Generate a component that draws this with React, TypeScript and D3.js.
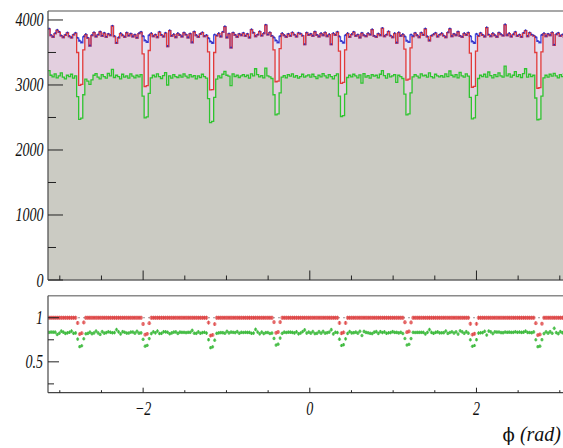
import React from 'react';
import * as d3 from 'd3';

const NBINS = 256;

const blueCounts = [
  3860,3760,3735,3790,3840,3810,3755,3730,3765,3800,3745,3725,3770,3795,3720,3675,
  3650,3740,3775,3720,3600,3760,3805,3740,3770,3815,3750,3795,3735,3780,3760,3905,
  3745,3640,3725,3790,3760,3735,3800,3755,3785,3740,3770,3720,3790,3810,3745,3680,
  3655,3760,3790,3745,3770,3730,3810,3765,3740,3795,3590,3835,3750,3775,3730,3790,
  3765,3740,3800,3770,3725,3785,3650,3815,3760,3735,3780,3805,3745,3760,3715,3665,
  3640,3770,3755,3790,3740,3810,3895,3725,3785,3570,3800,3765,3735,3780,3760,3795,
  3750,3780,3725,3850,3800,3745,3770,3820,3755,3790,3920,3770,3805,3750,3725,3680,
  3650,3745,3790,3760,3735,3780,3750,3805,3770,3740,3795,3785,3755,3620,3800,3765,
  3780,3750,3815,3765,3740,3790,3760,3805,3745,3775,3620,3790,3765,3810,3740,3670,
  3645,3760,3790,3735,3775,3810,3750,3770,3725,3795,3760,3745,3790,3770,3850,3750,
  3735,3785,3760,3870,3745,3770,3820,3755,3730,3790,3645,3805,3750,3775,3740,3675,
  3655,3770,3745,3795,3760,3730,3800,3765,3860,3740,3680,3755,3775,3795,3740,3770,
  3790,3755,3730,3805,3860,3745,3780,3760,3815,3750,3735,3790,3765,3800,3745,3665,
  3640,3780,3750,3795,3765,3740,3880,3770,3745,3790,3760,3735,3800,3775,3755,3925,
  3760,3790,3740,3775,3810,3750,3770,3735,3795,3835,3745,3800,3770,3755,3730,3670,
  3650,3765,3790,3745,3780,3760,3805,3610,3775,3795,3750,3770,3735,3790,3765,3780,
];

const redCounts = [
  3860,3760,3735,3790,3840,3810,3755,3730,3765,3800,3745,3725,3770,3795,3500,2995,
  3010,3540,3775,3720,3600,3760,3805,3740,3770,3815,3750,3795,3735,3780,3760,3905,
  3745,3640,3725,3790,3760,3735,3800,3755,3785,3740,3770,3720,3790,3810,3480,2975,
  2990,3530,3790,3745,3770,3730,3810,3765,3740,3795,3590,3835,3750,3775,3730,3790,
  3765,3740,3800,3770,3725,3785,3650,3815,3760,3735,3780,3805,3745,3760,3510,2925,
  2930,3500,3755,3790,3740,3810,3895,3725,3785,3570,3800,3765,3735,3780,3760,3795,
  3750,3780,3725,3850,3800,3745,3770,3820,3755,3790,3920,3770,3805,3750,3540,3050,
  3060,3560,3790,3760,3735,3780,3750,3805,3770,3740,3795,3785,3755,3620,3800,3765,
  3780,3750,3815,3765,3740,3790,3760,3805,3745,3775,3620,3790,3765,3810,3520,3025,
  3040,3540,3790,3735,3775,3810,3750,3770,3725,3795,3760,3745,3790,3770,3850,3750,
  3735,3785,3760,3870,3745,3770,3820,3755,3730,3790,3645,3805,3750,3775,3550,3075,
  3090,3570,3745,3795,3760,3730,3800,3765,3860,3740,3680,3755,3775,3795,3740,3770,
  3790,3755,3730,3805,3860,3745,3780,3760,3815,3750,3735,3790,3765,3800,3490,2965,
  2980,3520,3750,3795,3765,3740,3880,3770,3745,3790,3760,3735,3800,3775,3755,3925,
  3760,3790,3740,3775,3810,3750,3770,3735,3795,3835,3745,3800,3770,3755,3500,2950,
  2960,3510,3790,3745,3780,3760,3805,3610,3775,3795,3750,3770,3735,3790,3765,3780,
];

const greenCounts = [
  3220,3150,3125,3170,3110,3140,3185,3120,3095,3150,3130,3165,3105,3140,2820,2470,
  2490,2850,3090,3060,3010,3080,3150,3175,3120,3095,3160,3130,3105,3180,3140,3240,
  3115,3150,3130,3095,3165,3120,3140,3105,3170,3135,3110,3150,3125,3160,2830,2495,
  2510,2870,3110,3150,3125,3170,3130,3100,3145,3190,3000,3140,3105,3160,3130,3115,
  3150,3120,3170,3135,3110,3160,3125,3145,3095,3140,3115,3165,3130,3105,2790,2420,
  2440,2810,3090,3140,3110,3165,3210,3150,3135,2990,3170,3130,3150,3115,3140,3160,
  3130,3150,3105,3170,3140,3250,3160,3125,3145,3110,3260,3140,3125,3100,2850,2540,
  2555,2880,3120,3145,3110,3160,3135,3170,3120,3145,3105,3130,3165,3120,3140,3155,
  3120,3165,3130,3100,3150,3125,3175,3140,3110,3160,3130,3095,3145,3170,2830,2515,
  2530,2860,3115,3150,3125,3165,3140,3110,3155,3030,3175,3120,3145,3105,3160,3135,
  3150,3110,3165,3220,3145,3105,3170,3125,3140,3160,3040,3150,3130,3100,2860,2540,
  2555,2880,3125,3160,3135,3110,3170,3140,3150,3120,3185,3130,3110,3165,3140,3125,
  3145,3120,3170,3130,3215,3150,3125,3160,3110,3195,3140,3120,3170,3135,2810,2480,
  2495,2840,3100,3150,3130,3165,3120,3200,3145,3110,3160,3130,3185,3140,3120,3290,
  3140,3170,3120,3150,3205,3130,3160,3115,3175,3250,3120,3165,3130,3150,2800,2465,
  2475,2830,3110,3150,3120,3165,3135,3180,3140,3110,3160,3130,3175,3145,3120,3150,
];

const topYMajor = [0, 1000, 2000, 3000, 4000];
const topYLabels = ['0', '1000', '2000', '3000', '4000'];
const topYMinor = [500, 1500, 2500, 3500];
const xMajor = [-2, 0, 2];
const xLabels = ['\u22122', '0', '2'];
const xMinor = [-3, -2.5, -1.5, -1, -0.5, 0.5, 1, 1.5, 2.5, 3];
const ratioMajor = [0.5, 1];
const ratioLabels = ['0.5', '1'];
const ratioMinor = [0.25, 0.75];

const W = 563;
const H = 448;
const FX0 = 48;
const FX1 = 571.6;
const TOP0 = 11;
const TOP1 = 280;
const BOT0 = 295.7;
const BOT1 = 392.7;

const FONT = "'Liberation Serif', 'Times New Roman', serif";

function Lbl({ x, y, text, anchor }: { x: number; y: number; text: string; anchor: string }) {
  return (
    <text
      transform={`translate(${x},${y}) scale(0.74,1)`}
      textAnchor={anchor}
      fontFamily={FONT}
      fontStyle="italic"
      fontSize={19}
      fill="#111"
    >
      {text}
    </text>
  );
}

export default function App() {
  const edges = d3.range(NBINS + 1).map((i) => -Math.PI + (i * 2 * Math.PI) / NBINS);
  const centers = d3.range(NBINS).map((i) => (edges[i] + edges[i + 1]) / 2);

  const x = d3.scaleLinear().domain([-Math.PI, Math.PI]).range([FX0, FX1]);
  const yTop = d3.scaleLinear().domain([0, 4138]).range([TOP1, TOP0]);
  const yBot = d3.scaleLinear().domain([0.15, 1.25]).range([BOT1, BOT0]);

  type P = { x: number; v: number };
  const stepData = (vals: number[]): P[] =>
    vals.map((v, i) => ({ x: edges[i], v })).concat([{ x: edges[NBINS], v: vals[NBINS - 1] }]);

  const area = d3
    .area<P>()
    .x((d) => x(d.x))
    .y0(yTop(0))
    .y1((d) => yTop(d.v))
    .curve(d3.curveStepAfter);
  const line = d3
    .line<P>()
    .x((d) => x(d.x))
    .y((d) => yTop(d.v))
    .curve(d3.curveStepAfter);

  const blueD = stepData(blueCounts);
  const redD = stepData(redCounts);
  const greenD = stepData(greenCounts);

  const redRatio = redCounts.map((r, i) => r / blueCounts[i]);
  const greenRatio = greenCounts.map((g, i) => g / blueCounts[i]);
  const redErr = redCounts.map((r, i) => redRatio[i] * Math.sqrt(1 / r + 1 / blueCounts[i]));
  const greenErr = greenCounts.map((g, i) => greenRatio[i] * Math.sqrt(1 / g + 1 / blueCounts[i]));

  return (
    <svg
      width={W}
      height={H}
      viewBox={`0 0 ${W} ${H}`}
      style={{ position: 'fixed', left: 0, top: 0, background: '#fff' }}
    >
      <defs>
        <clipPath id="clipTop">
          <rect x={FX0} y={TOP0} width={FX1 - FX0} height={TOP1 - TOP0} />
        </clipPath>
        <clipPath id="clipBot">
          <rect x={FX0} y={BOT0} width={FX1 - FX0} height={BOT1 - BOT0} />
        </clipPath>
      </defs>
      <rect x={0} y={0} width={W} height={H} fill="#fff" />

      {/* top pad histograms */}
      <g clipPath="url(#clipTop)">
        <path d={area(blueD) || ''} fill="#e7e5f3" />
        <path d={area(redD) || ''} fill="#e3cfdf" />
        <path d={area(greenD) || ''} fill="#cbcbc3" />
        <path d={line(blueD) || ''} fill="none" stroke="#5050e0" strokeWidth={1.4} />
        <path d={line(redD) || ''} fill="none" stroke="#e23a3a" strokeWidth={1.3} />
        <path d={line(greenD) || ''} fill="none" stroke="#2fc42f" strokeWidth={1.3} />
        {centers.map((c, i) => (
          <circle key={'bm' + i} cx={x(c)} cy={yTop(blueCounts[i]) - 0.6} r={0.9} fill="#2c2cb8" />
        ))}
      </g>

      {/* top pad frame */}
      <line x1={FX0} x2={W} y1={TOP0} y2={TOP0} stroke="#8a8a8a" strokeWidth={1.5} />
      <line x1={FX0} x2={FX0} y1={TOP0} y2={TOP1} stroke="#555" strokeWidth={1.3} />
      <line x1={FX0} x2={W} y1={TOP1} y2={TOP1} stroke="#666" strokeWidth={1.3} />
      {topYMajor.map((v) => (
        <line key={'tyM' + v} x1={FX0} x2={FX0 + 15} y1={yTop(v)} y2={yTop(v)} stroke="#222" strokeWidth={1} />
      ))}
      {topYMinor.map((v) => (
        <line key={'tym' + v} x1={FX0} x2={FX0 + 8} y1={yTop(v)} y2={yTop(v)} stroke="#222" strokeWidth={1} />
      ))}
      {xMajor.map((v) => (
        <line key={'txM' + v} x1={x(v)} x2={x(v)} y1={TOP1} y2={TOP1 - 9.5} stroke="#222" strokeWidth={1} />
      ))}
      {xMinor.map((v) => (
        <line key={'txm' + v} x1={x(v)} x2={x(v)} y1={TOP1} y2={TOP1 - 4.5} stroke="#222" strokeWidth={1} />
      ))}
      {topYMajor.map((v, i) => (
        <Lbl key={'tyl' + v} x={43.5} y={yTop(v) + 6.5} text={topYLabels[i]} anchor="end" />
      ))}

      {/* bottom pad */}
      <g clipPath="url(#clipBot)">
        <line x1={FX0} x2={FX1} y1={yBot(1)} y2={yBot(1)} stroke="#9a9a9a" strokeWidth={1} strokeDasharray="2,3" />
        {centers.map((c, i) => (
          <g key={'gr' + i}>
            <line
              x1={x(c)}
              x2={x(c)}
              y1={yBot(greenRatio[i] - greenErr[i])}
              y2={yBot(greenRatio[i] + greenErr[i])}
              stroke="#36b836"
              strokeWidth={0.8}
            />
            <circle cx={x(c)} cy={yBot(greenRatio[i])} r={1.6} fill="#2fb52f" fillOpacity={0.7} />
          </g>
        ))}
        {centers.map((c, i) => (
          <g key={'rr' + i}>
            <line
              x1={x(c)}
              x2={x(c)}
              y1={yBot(redRatio[i] - redErr[i])}
              y2={yBot(redRatio[i] + redErr[i])}
              stroke="#e04848"
              strokeWidth={0.8}
            />
            <circle cx={x(c)} cy={yBot(redRatio[i])} r={1.9} fill="#dc3535" fillOpacity={0.6} />
          </g>
        ))}
      </g>
      <line x1={FX0} x2={W} y1={BOT0} y2={BOT0} stroke="#8a8a8a" strokeWidth={1.5} />
      <line x1={FX0} x2={FX0} y1={BOT0} y2={BOT1} stroke="#555" strokeWidth={1.3} />
      <line x1={FX0} x2={W} y1={BOT1} y2={BOT1} stroke="#444" strokeWidth={1.3} />
      {ratioMajor.map((v) => (
        <line key={'byM' + v} x1={FX0} x2={FX0 + 11} y1={yBot(v)} y2={yBot(v)} stroke="#222" strokeWidth={1} />
      ))}
      {ratioMinor.map((v) => (
        <line key={'bym' + v} x1={FX0} x2={FX0 + 6} y1={yBot(v)} y2={yBot(v)} stroke="#222" strokeWidth={1} />
      ))}
      {xMajor.map((v) => (
        <line key={'bxM' + v} x1={x(v)} x2={x(v)} y1={BOT1} y2={BOT1 - 5} stroke="#222" strokeWidth={1} />
      ))}
      {xMinor.map((v) => (
        <line key={'bxm' + v} x1={x(v)} x2={x(v)} y1={BOT1} y2={BOT1 - 2.5} stroke="#222" strokeWidth={1} />
      ))}
      {ratioMajor.map((v, i) => (
        <Lbl key={'byl' + v} x={43} y={yBot(v) + 6.5} text={ratioLabels[i]} anchor="end" />
      ))}
      {xMajor.map((v, i) => (
        <Lbl key={'bxl' + v} x={x(v)} y={415} text={xLabels[i]} anchor="middle" />
      ))}

      <text x={561} y={441} textAnchor="end" fontFamily={FONT} fontSize={20} fill="#111">
        <tspan fontFamily="'DejaVu Serif', 'Liberation Serif', serif" fontSize={18}>ϕ</tspan>
        <tspan fontStyle="italic"> (rad)</tspan>
      </text>
    </svg>
  );
}
